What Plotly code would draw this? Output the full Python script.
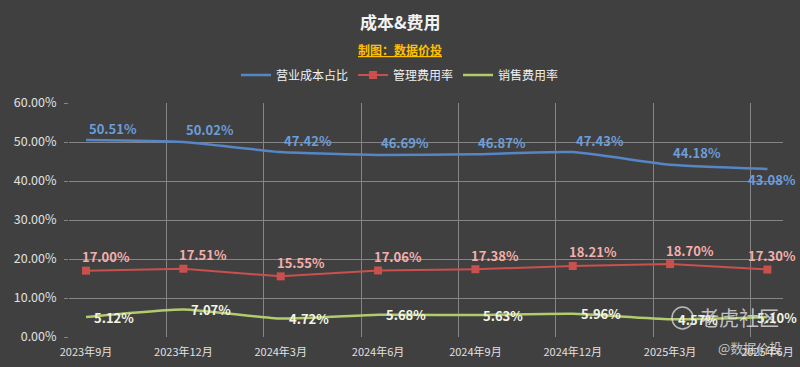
import plotly.graph_objects as go

categories = ["2023年9月", "2023年12月", "2024年3月", "2024年6月",
              "2024年9月", "2024年12月", "2025年3月", "2025年6月"]
cost_ratio = [50.51, 50.02, 47.42, 46.69, 46.87, 47.43, 44.18, 43.08]
admin_ratio = [17.00, 17.51, 15.55, 17.06, 17.38, 18.21, 18.70, 17.30]
sales_ratio = [5.12, 7.07, 4.72, 5.68, 5.63, 5.96, 4.57, 5.10]
series_names = ["营业成本占比", "管理费用率", "销售费用率"]
y_ticks = [0, 10, 20, 30, 40, 50, 60]

FONT = "Noto Sans CJK SC, Microsoft YaHei, sans-serif"
BG = "#404040"
GRID = "#858585"
W, H = 800, 367
ML, MR, MT, MB = 69, 17, 103, 30
PW, PH = W - ML - MR, H - MT - MB


def px_x(p):
    return (p - ML) / PW


def px_y(p):
    return (H - MB - p) / PH


x = list(range(len(categories)))

fig = go.Figure()
fig.add_trace(go.Scatter(
    x=x, y=cost_ratio, name=series_names[0], mode="lines",
    line=dict(color="#5686C6", width=2.5, shape="spline", smoothing=0.5),
))
fig.add_trace(go.Scatter(
    x=x, y=admin_ratio, name=series_names[1], mode="lines+markers",
    line=dict(color="#C9504D", width=2),
    marker=dict(symbol="square", size=8, color="#C9504D"),
))
fig.add_trace(go.Scatter(
    x=x, y=sales_ratio, name=series_names[2], mode="lines",
    line=dict(color="#B2CB6C", width=2.5, shape="spline", smoothing=0.5),
))

annotations = []
label_styles = [
    (cost_ratio, "#6B9EDB", 27, 12),
    (admin_ratio, "#F3AFAD", 20, 14),
    (sales_ratio, "#F2F5E3", 28, 0),
]
for vals, col, xs, ys in label_styles:
    n = len(vals)
    for i, v in enumerate(vals):
        last = i == n - 1
        dx = 5 if last else xs
        dy = ys
        if last and vals is cost_ratio:
            dy = -11
        if last and vals is sales_ratio:
            dx = 10
        annotations.append(dict(
            x=i, y=v, xref="x", yref="y", text=f"{v:.2f}%", showarrow=False,
            xshift=dx, yshift=dy,
            font=dict(family=FONT, size=13, color=col, weight="bold"),
        ))

annotations += [
    dict(text="<b>成本&费用</b>", xref="paper", yref="paper", x=px_x(400), y=px_y(22),
         showarrow=False, font=dict(family=FONT, size=17, color="#F2F2F2"),
         xanchor="center", yanchor="middle"),
    dict(text="<u><b>制图：数据价投</b></u>", xref="paper", yref="paper", x=px_x(400), y=px_y(50),
         showarrow=False, font=dict(family=FONT, size=12, color="#FFC000"),
         xanchor="center", yanchor="middle"),
    dict(text="老虎社区", xref="paper", yref="paper", x=px_x(781), y=px_y(317),
         showarrow=False, font=dict(family=FONT, size=20, color="rgba(235,235,235,0.75)"),
         xanchor="right", yanchor="middle"),
    dict(text="@数据价投", xref="paper", yref="paper", x=px_x(784), y=px_y(347),
         showarrow=False, font=dict(family=FONT, size=13, color="rgba(235,235,235,0.8)"),
         xanchor="right", yanchor="middle"),
]

fig.update_layout(
    width=W, height=H,
    paper_bgcolor=BG, plot_bgcolor=BG,
    margin=dict(l=ML, r=MR, t=MT, b=MB, autoexpand=False),
    showlegend=True,
    legend=dict(orientation="h", x=0.5, xanchor="center", xref="container",
                y=1 - 75 / H, yref="container", yanchor="middle",
                font=dict(family=FONT, size=12, color="#F0F0F0"),
                bgcolor="rgba(0,0,0,0)", itemwidth=30),
    annotations=annotations,
    shapes=[dict(type="circle", xref="paper", yref="paper",
                 x0=px_x(672), x1=px_x(693), y0=px_y(329), y1=px_y(307),
                 line=dict(color="rgba(235,235,235,0.7)", width=1.5))],
    font=dict(family=FONT, color="#E0E0E0"),
)
fig.update_xaxes(
    range=[-0.175, 7.16], tickmode="array", tickvals=x, ticktext=categories,
    showgrid=False, zeroline=False, showline=False, ticks="",
    tickfont=dict(family=FONT, size=11, color="#E0E0E0"),
    ticklabelstandoff=7,
    minor=dict(tickmode="array", tickvals=[i - 0.175 for i in x],
               showgrid=True, gridcolor=GRID, gridwidth=1),
    automargin=False,
)
fig.update_yaxes(
    range=[0, 60], tickmode="array", tickvals=y_ticks,
    ticktext=[f"{v:.2f}%" for v in y_ticks],
    showgrid=True, gridcolor=GRID, gridwidth=1, zeroline=False,
    ticks="outside", ticklen=4, tickcolor=GRID,
    ticklabelstandoff=5,
    tickfont=dict(family=FONT, size=12.5, color="#E0E0E0"),
    automargin=False,
)

fig.write_html(
    "out.html",
    config={"displayModeBar": False},
    post_script="document.body.style.margin='0';document.body.style.padding='0';"
                "document.body.style.background='#404040';document.body.style.overflow='hidden';",
)
